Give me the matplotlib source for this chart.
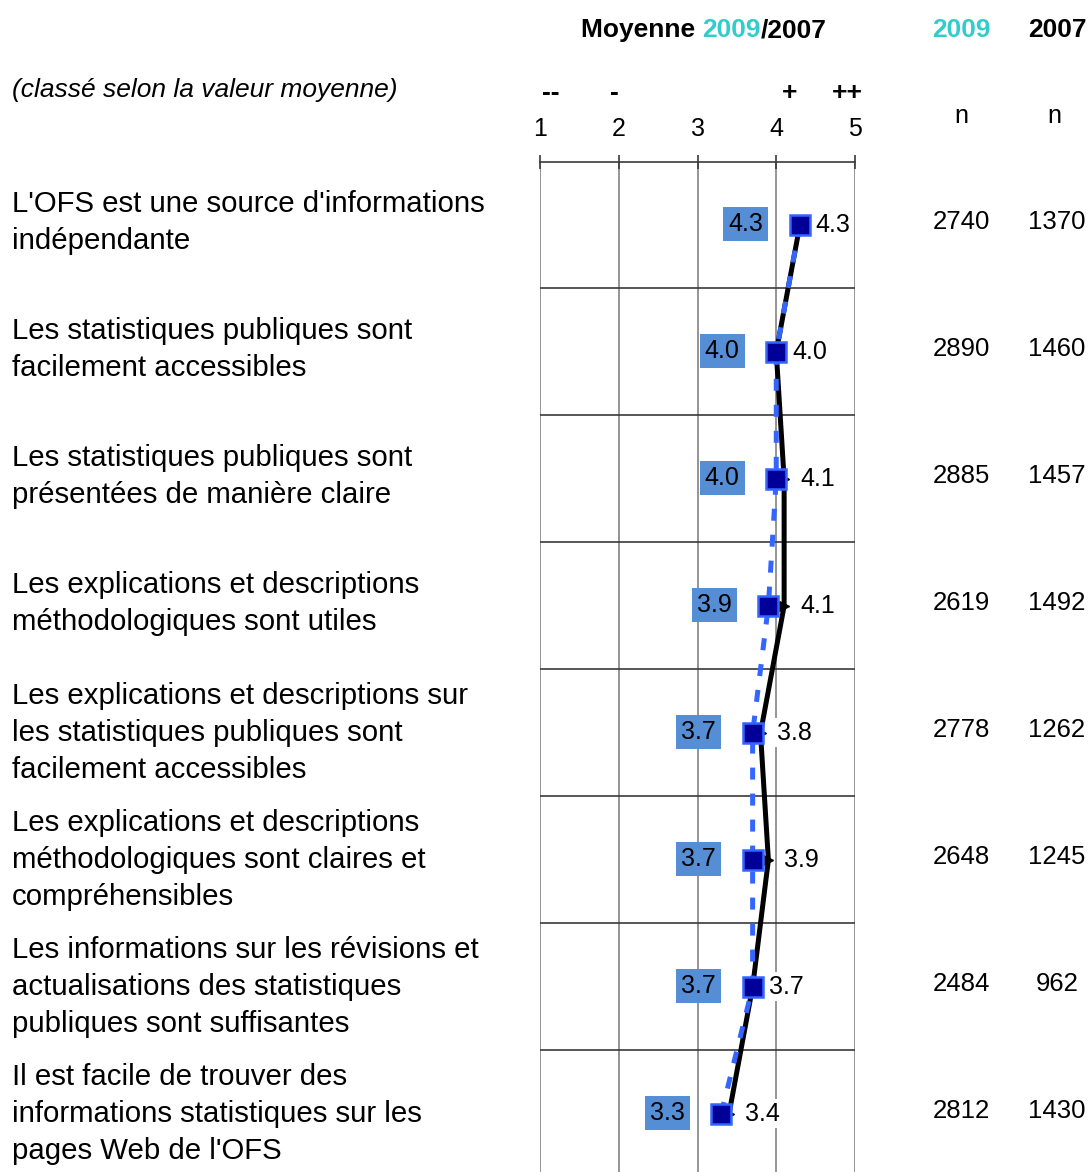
import matplotlib.pyplot as plt
import matplotlib.transforms as mtransforms

plt.rcParams['font.family'] = ['Liberation Sans', 'DejaVu Sans']

labels = ["L'OFS est une source d'informations\nindépendante",
          "Les statistiques publiques sont\nfacilement accessibles",
          "Les statistiques publiques sont\nprésentées de manière claire",
          "Les explications et descriptions\nméthodologiques sont utiles",
          "Les explications et descriptions sur\nles statistiques publiques sont\nfacilement accessibles",
          "Les explications et descriptions\nméthodologiques sont claires et\ncompréhensibles",
          "Les informations sur les révisions et\nactualisations des statistiques\npubliques sont suffisantes",
          "Il est facile de trouver des\ninformations statistiques sur les\npages Web de l'OFS"]
mean_2009 = [4.3, 4.0, 4.0, 3.9, 3.7, 3.7, 3.7, 3.3]
mean_2007 = [4.3, 4.0, 4.1, 4.1, 3.8, 3.9, 3.7, 3.4]
n_2009 = [2740, 2890, 2885, 2619, 2778, 2648, 2484, 2812]
n_2007 = [1370, 1460, 1457, 1492, 1262, 1245, 962, 1430]
scale_ticks = [1, 2, 3, 4, 5]
scale_words = ['--', '-', '', '+', '++']

teal = '#33CCCC'
W, H = 1089, 1172
fig = plt.figure(figsize=(W / 100, H / 100), dpi=100)
ax = fig.add_axes([540 / W, 0, 315 / W, (H - 162) / H])

rows = list(range(len(labels)))
ax.set_xlim(1, 5)
ax.set_ylim(7.457, -0.496)

# grid and separators
ax.grid(axis='x', color='#8c8c8c', lw=1.3)
ax.set_axisbelow(True)
for i in rows[:-1]:
    ax.axhline(i + 0.5, color='#3a3a3a', lw=1.2, zorder=1)
for s in ['left', 'right', 'bottom']:
    ax.spines[s].set_visible(False)
ax.spines['top'].set_color('#3a3a3a')
ax.spines['top'].set_linewidth(1.2)
ax.xaxis.tick_top()
ax.set_xticks(scale_ticks)
ax.tick_params(axis='x', direction='inout', length=10, width=1.2, color='#3a3a3a',
               labelsize=18, pad=10)
ax.set_yticks([])

# lines
ax.plot(mean_2007, rows, color='black', lw=3.6, marker='>', ms=7, zorder=3)
ax.plot(mean_2009, rows, color='#3366FF', lw=3.6, ls=(0, (2.4, 2.8)), zorder=4)
ax.plot(mean_2009, rows, ls='none', marker='s', ms=14, mfc='#000099',
        mec='#3366FF', mew=1.8, zorder=5)

for i in rows:
    ax.annotate(f'{mean_2009[i]:.1f}', (mean_2009[i], i), xytext=(-54, 1),
                textcoords='offset pixels', ha='center', va='center', fontsize=18,
                bbox=dict(boxstyle='square,pad=0.2', fc='#558ED5', ec='none'), zorder=6)
    ax.annotate(f'{mean_2007[i]:.1f}', (mean_2007[i], i), xytext=(16, 0),
                textcoords='offset pixels', ha='left', va='center', fontsize=18,
                bbox=dict(boxstyle='square,pad=0.1', fc='white', ec='none'), zorder=6)

# left labels and n columns
tr = mtransforms.blended_transform_factory(fig.transFigure, ax.transData)
for i in rows:
    shift = 0.0 if labels[i].count('\n') > 1 else -0.02
    fig.text(12 / W, i + shift, labels[i], transform=tr, ha='left', va='center',
             fontsize=21.2, linespacing=1.42)
    fig.text(961 / W, i - 0.025, str(n_2009[i]), transform=tr, ha='center', va='center',
             fontsize=18.5)
    fig.text(1057 / W, i - 0.025, str(n_2007[i]), transform=tr, ha='center', va='center',
             fontsize=18.5)

# scale words
word_x = [551, 614, 0, 790, 847]
for wx, wd in zip(word_x, scale_words):
    if wd:
        fig.text(wx / W, 1 - 93 / H, wd, ha='center', va='center', fontsize=19,
                 fontweight='bold')

# headers
fig.text(12 / W, 1 - 90 / H, '(classé selon la valeur moyenne)', ha='left', va='center',
         fontsize=19, style='italic')
t1 = fig.text(581 / W, 1 - 30 / H, 'Moyenne ', ha='left', va='center', fontsize=19,
              fontweight='bold')
t2 = ax.annotate('2009', xycoords=t1, xy=(1, 0.5), va='center', ha='left',
                 fontsize=19, fontweight='bold', color=teal)
ax.annotate('/2007', xycoords=t2, xy=(1, 0.5), va='center', ha='left',
            fontsize=19, fontweight='bold', color='black')
fig.text(961 / W, 1 - 30 / H, '2009', ha='center', va='center', fontsize=19,
         fontweight='bold', color=teal)
fig.text(1057 / W, 1 - 30 / H, '2007', ha='center', va='center', fontsize=19,
         fontweight='bold')
fig.text(961 / W, 1 - 116 / H, 'n', ha='center', va='center', fontsize=18)
fig.text(1054 / W, 1 - 116 / H, 'n', ha='center', va='center', fontsize=18)

fig.savefig('out.png', dpi=100)
